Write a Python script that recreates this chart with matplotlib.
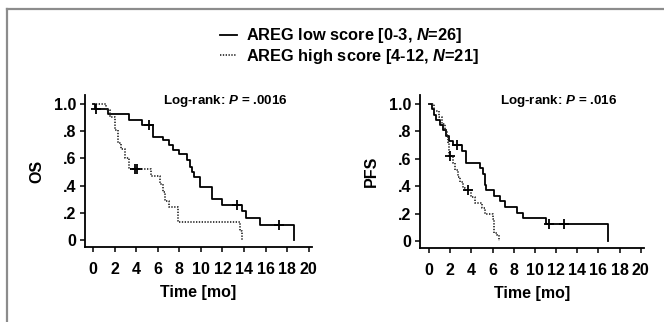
import numpy as np
import matplotlib
matplotlib.use("Agg")
import matplotlib.pyplot as plt
from matplotlib.lines import Line2D

plt.rcParams['font.family'] = ['Liberation Sans', 'DejaVu Sans']
plt.rcParams['font.weight'] = 'bold'
plt.rcParams['mathtext.fontset'] = 'custom'
plt.rcParams['mathtext.it'] = 'Liberation Sans:italic:bold'
plt.rcParams['mathtext.rm'] = 'Liberation Sans:bold'

# overall survival, low score
os_low_t = [0, 0.15, 1.4, 3.3, 4.5, 5.6, 6.5, 7.0, 7.4, 8.0, 8.7, 9.0, 9.2, 9.4, 9.9, 11.0, 12.0, 13.8, 14.2, 15.5, 18.6]
os_low_s = [1.0, 0.962, 0.923, 0.885, 0.846, 0.76, 0.735, 0.70, 0.665, 0.63, 0.59, 0.54, 0.50, 0.46, 0.39, 0.30, 0.255, 0.21, 0.16, 0.11, 0.0]
os_low_cens_t = [0.3, 5.2, 13.3, 17.2]
os_low_cens_s = [0.962, 0.846, 0.255, 0.11]

# overall survival, high score
os_high_t = [0, 1.2, 1.6, 2.0, 2.3, 2.6, 3.0, 3.3, 5.4, 6.2, 6.5, 6.7, 7.0, 7.9, 13.6, 13.8]
os_high_s = [1.0, 0.952, 0.905, 0.81, 0.714, 0.667, 0.60, 0.524, 0.47, 0.41, 0.35, 0.29, 0.24, 0.13, 0.065, 0.0]
os_high_cens_t = [3.9, 4.1]
os_high_cens_s = [0.524, 0.524]

# progression-free survival, low score
pfs_low_t = [0, 0.3, 0.5, 0.7, 1.0, 1.3, 1.6, 1.9, 2.3, 3.1, 3.5, 4.8, 5.1, 5.3, 5.4, 6.1, 6.7, 7.2, 8.3, 8.9, 11.0, 16.9]
pfs_low_s = [1.0, 0.962, 0.923, 0.885, 0.846, 0.808, 0.769, 0.731, 0.70, 0.655, 0.57, 0.53, 0.49, 0.41, 0.37, 0.33, 0.29, 0.245, 0.205, 0.165, 0.125, 0.0]
pfs_low_cens_t = [2.6, 11.3, 12.7]
pfs_low_cens_s = [0.70, 0.125, 0.125]

# progression-free survival, high score
pfs_high_t = [0, 0.5, 0.9, 1.2, 1.5, 1.7, 1.8, 1.9, 2.3, 2.5, 2.7, 2.9, 3.2, 3.4, 4.0, 4.3, 5.0, 5.3, 6.0, 6.1, 6.4, 6.6]
pfs_high_s = [1.0, 0.952, 0.905, 0.857, 0.81, 0.762, 0.714, 0.62, 0.57, 0.52, 0.47, 0.43, 0.39, 0.37, 0.32, 0.28, 0.24, 0.20, 0.16, 0.06, 0.04, 0.0]
pfs_high_cens_t = [1.95, 3.7]
pfs_high_cens_s = [0.62, 0.37]

xticks = list(range(0, 21, 2))
yticks = [0, 0.2, 0.4, 0.6, 0.8, 1.0]
ytick_labels = ['0', '.2', '.4', '.6', '.8', '1.0']
labels = ['AREG low score [0-3, $N$=26]', 'AREG high score [4-12, $N$=21]']

fig = plt.figure(figsize=(6.64, 3.22), dpi=100)

# gray frame on top and left
fig.add_artist(Line2D([7/664, 1], [1 - 9/322, 1 - 9/322], color='#8c8c8c', lw=1.6))
fig.add_artist(Line2D([7/664, 7/664], [0, 1 - 9/322], color='#8c8c8c', lw=1.6))

ax1 = fig.add_axes([85/664, 75/322, 227/664, 152/322])
ax2 = fig.add_axes([420/664, 74/322, 224/664, 153/322])


def km(ax, t_low, s_low, ct_low, cs_low, t_high, s_high, ct_high, cs_high, ylab, ptext, xmin):
    l1, = ax.step(t_low, s_low, where='post', color='black', lw=1.3)
    l2, = ax.step(t_high, s_high, where='post', color='#222222', lw=1.2, linestyle=(0, (0.8, 0.9)))
    ax.plot(ct_low, cs_low, '+', color='black', ms=6.5, mew=1.3)
    ax.plot(ct_high, cs_high, '+', color='black', ms=6.5, mew=1.3)
    ax.set_xlim(xmin, 20.3)
    ax.set_ylim(-0.052, 1.066)
    ax.set_xticks(xticks)
    ax.set_yticks(yticks)
    ax.set_yticklabels(ytick_labels)
    for s in ['top', 'right']:
        ax.spines[s].set_visible(False)
    for s in ['left', 'bottom']:
        ax.spines[s].set_linewidth(1.3)
    ax.tick_params(axis='both', labelsize=11.5, width=1.1, length=3.5)
    ax.tick_params(axis='x', pad=7)
    ax.tick_params(axis='y', pad=3)
    for lab in ax.get_xticklabels() + ax.get_yticklabels():
        lab.set_fontweight('bold')
    ax.set_xlabel('Time [mo]', fontsize=11.5, fontweight='bold', labelpad=6)
    ax.set_ylabel(ylab, fontsize=11.5, fontweight='bold', labelpad=7)
    ax.text(0.62, 0.96, ptext, transform=ax.transAxes, ha='center', va='center',
            fontsize=9.6, fontweight='bold')
    return l1, l2


h1, h2 = km(ax1, os_low_t, os_low_s, os_low_cens_t, os_low_cens_s,
            os_high_t, os_high_s, os_high_cens_t, os_high_cens_s,
            'OS', 'Log-rank: $P$ = .0016', -0.75)
km(ax2, pfs_low_t, pfs_low_s, pfs_low_cens_t, pfs_low_cens_s,
   pfs_high_t, pfs_high_s, pfs_high_cens_t, pfs_high_cens_s,
   'PFS', 'Log-rank: $P$ = .016', -0.85)

fig.legend([h1, h2], labels, loc='center left', bbox_to_anchor=(212/664, 1 - 46/322),
           frameon=False, borderpad=0, handlelength=1.05, handletextpad=0.55, labelspacing=0.08,
           prop={'size': 11.8, 'weight': 'bold'})

fig.savefig('out.png', dpi=100)
